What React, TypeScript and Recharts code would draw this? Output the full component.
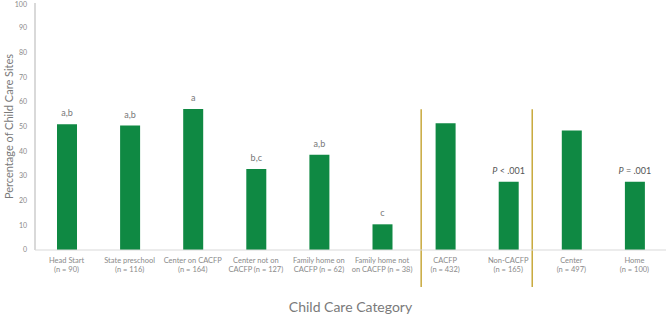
import * as R from 'recharts'
import { BarChart, Bar, XAxis, YAxis, LabelList, ReferenceLine } from 'recharts'

const categories = [
  'Head Start',
  'State preschool',
  'Center on CACFP',
  'Center not on CACFP',
  'Family home on CACFP',
  'Family home not on CACFP',
  'CACFP',
  'Non-CACFP',
  'Center',
  'Home'
]

const tickLines: Array<[string, string]> = [
  ['Head Start', '(n = 90)'],
  ['State preschool', '(n = 116)'],
  ['Center on CACFP', '(n = 164)'],
  ['Center not on', 'CACFP (n = 127)'],
  ['Family home on', 'CACFP (n = 62)'],
  ['Family home not', 'on CACFP (n = 38)'],
  ['CACFP', '(n = 432)'],
  ['Non-CACFP', '(n = 165)'],
  ['Center', '(n = 497)'],
  ['Home', '(n = 100)']
]

const percentages = [50.9, 50.4, 57.1, 32.8, 38.6, 10.4, 51.3, 27.6, 48.4, 27.6]

const annotations = ['a,b', 'a,b', 'a', 'b,c', 'a,b', 'c', '', 'P < .001', '', 'P = .001']

const yTicks = [0, 10, 20, 30, 40, 50, 60, 70, 80, 90, 100]

// group separators, in category units along the x axis (0 = left edge, 10 = right edge)
const separators = [6.12, 7.88]
// separator ends, in y-axis units (below the axis down through the tick labels)
const sepBottom = -15
const sepTop = 57

const data = categories.map((name, i) => ({
  name,
  value: percentages[i],
  note: annotations[i]
}))

const GREEN = '#0f8943'
const GREY = '#8a8a8a'
const SEP = '#c8a93c'
const FONT = 'Lato, "Open Sans", sans-serif'

function CategoryTick(props: any) {
  const { x, y, index } = props
  const [a, b] = tickLines[index] || ['', '']
  return (
    <text x={x} y={y} textAnchor="middle" fill={GREY} fontSize={7.5} fontFamily={FONT}>
      <tspan x={x} dy={4.5}>{a}</tspan>
      <tspan x={x} dy={9.5}>{b}</tspan>
    </text>
  )
}

function NoteLabel(props: any) {
  const { x, y, width, value } = props
  if (!value) return null
  const cx = x + width / 2
  if (value.startsWith('P')) {
    return (
      <text x={cx} y={y - 7.5} textAnchor="middle" fill="#555" fontSize={9} fontFamily={FONT}>
        <tspan fontStyle="italic">P</tspan>
        <tspan>{value.slice(1)}</tspan>
      </text>
    )
  }
  return (
    <text x={cx} y={y - 8} textAnchor="middle" fill="#777" fontSize={9} fontFamily={FONT}>
      {value}
    </text>
  )
}

const usePlotArea: any = (R as any).usePlotArea

function Separators() {
  const area = usePlotArea ? usePlotArea() : null
  if (!area) return null
  const yOf = (v: number) => area.y + area.height * (1 - v / 100)
  return (
    <g>
      {separators.map((s) => {
        const x = area.x + (area.width * s) / categories.length
        return (
          <line
            key={s}
            x1={x}
            x2={x}
            y1={yOf(sepTop)}
            y2={yOf(sepBottom)}
            stroke={SEP}
            strokeWidth={1.5}
          />
        )
      })}
    </g>
  )
}

export default function App() {
  return (
    <div style={{ position: 'absolute', left: 0, top: 0, background: '#fff' }}>
      <BarChart
        width={666}
        height={317}
        data={data}
        margin={{ top: 3, right: 0, bottom: 0, left: 0 }}
        barSize={20}
      >
        <XAxis
          dataKey="name"
          interval={0}
          height={67}
          tickLine={false}
          axisLine={{ stroke: '#d9d9d9', strokeWidth: 1 }}
          tick={<CategoryTick />}
          label={{
            value: 'Child Care Category',
            position: 'insideBottom',
            offset: 5,
            fill: '#7a7a7a',
            fontSize: 14,
            fontFamily: FONT
          }}
        />
        <YAxis
          width={35}
          domain={[0, 100]}
          ticks={yTicks}
          tickLine={false}
          axisLine={{ stroke: '#d9d9d9', strokeWidth: 2 }}
          tick={{ fill: GREY, fontSize: 7, fontFamily: FONT }}
          label={{
            value: 'Percentage of Child Care Sites',
            angle: -90,
            position: 'insideLeft',
            offset: 9,
            style: { textAnchor: 'middle' },
            fill: '#7a7a7a',
            fontSize: 11,
            fontFamily: FONT
          }}
        />
        {!usePlotArea &&
          separators.map((s, i) => (
            <ReferenceLine
              key={s}
              x={categories[6 + i * 2]}
              position="start"
              stroke={SEP}
              strokeWidth={1.5}
            />
          ))}
        <Bar dataKey="value" fill={GREEN} isAnimationActive={false}>
          <LabelList dataKey="note" content={<NoteLabel />} />
        </Bar>
        <Separators />
      </BarChart>
    </div>
  )
}
